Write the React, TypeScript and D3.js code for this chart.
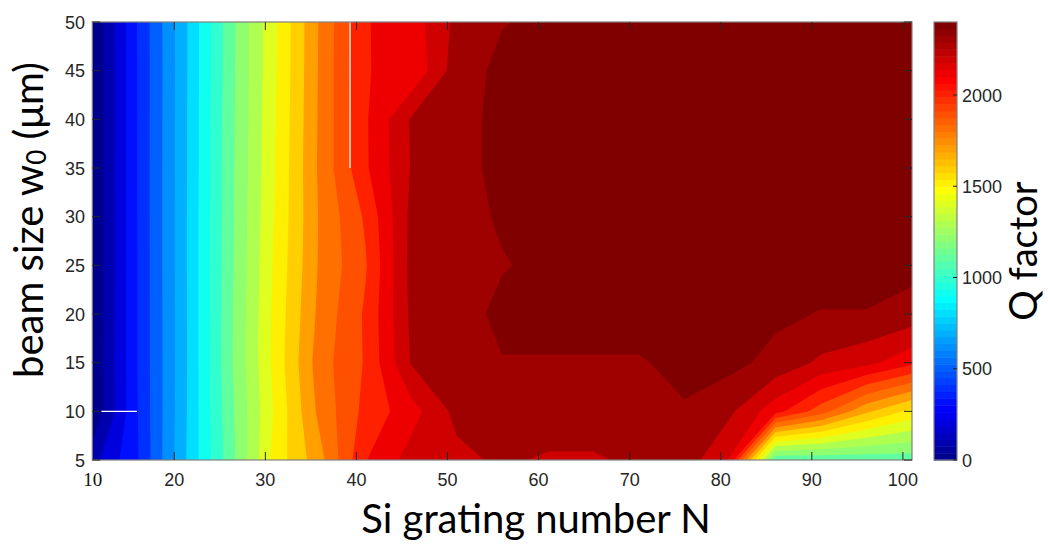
import React from 'react';
import * as d3 from 'd3';

// ---- data ----
const N_VALUES = [11, 16, 21, 26, 31, 36, 41, 46, 51, 56, 61, 66, 71, 76, 81, 86, 91, 96, 101];
const W0_VALUES = [5, 10, 15, 20, 25, 30, 35, 40, 45, 50];

// Q factor per beam size w0 (columns follow N_VALUES)
const Q_W5 = [160, 395, 777, 1145, 1535, 1767, 2095, 2240, 2270, 2320, 2285, 2285, 2325, 2360, 2190, 1110, 1120, 1130, 1140];
const Q_W10 = [5, 400, 770, 1160, 1510, 1830, 2030, 2160, 2330, 2360, 2370, 2370, 2370, 2390, 2320, 2140, 1950, 1720, 1570];
const Q_W15 = [8, 404, 767, 1170, 1528, 1855, 2010, 2306, 2350, 2392, 2390, 2390, 2390, 2430, 2428, 2370, 2280, 2230, 2125];
const Q_W20 = [6, 404, 768, 1168, 1525, 1830, 2015, 2320, 2330, 2440, 2450, 2450, 2450, 2450, 2450, 2420, 2395, 2395, 2360];
const Q_W25 = [5, 404, 770, 1165, 1515, 1815, 1990, 2330, 2375, 2390, 2435, 2440, 2440, 2445, 2445, 2445, 2445, 2445, 2431];
const Q_W30 = [4, 405, 770, 1162, 1505, 1812, 2015, 2325, 2340, 2420, 2440, 2445, 2445, 2445, 2445, 2445, 2445, 2445, 2440];
const Q_W35 = [4, 406, 768, 1160, 1495, 1822, 2085, 2305, 2375, 2420, 2440, 2445, 2445, 2445, 2445, 2445, 2445, 2445, 2440];
const Q_W40 = [3, 405, 768, 1158, 1490, 1818, 2087, 2309, 2375, 2420, 2440, 2445, 2445, 2445, 2445, 2445, 2445, 2445, 2440];
const Q_W45 = [3, 405, 766, 1155, 1485, 1815, 2098, 2114, 2352, 2425, 2440, 2445, 2445, 2445, 2445, 2445, 2445, 2445, 2440];
const Q_W50 = [3, 408, 766, 1154, 1483, 1812, 2094, 2146, 2325, 2395, 2420, 2440, 2440, 2440, 2440, 2440, 2440, 2440, 2440];

const LEVELS = d3.range(0, 2401, 100);
const C_LIM = [0, 2400];
const CB_TICKS = [0, 500, 1000, 1500, 2000];
const X_TICKS = [20, 30, 40, 50, 60, 70, 80, 90, 100];
const X_EDGE_LABEL = '10';
const Y_TICKS = [5, 10, 15, 20, 25, 30, 35, 40, 45, 50];
// white artefact strokes visible in the picture, in data units [N, w0]
const ARTEFACTS = [
  [[39.3, 35], [39.3, 50]],
  [[12.0, 10], [15.9, 10]],
];

// MATLAB jet(64)
function jetU(k: number) {
  if (k < 1 || k > 47) return 0;
  if (k <= 16) return k / 16;
  if (k <= 31) return 1;
  return (48 - k) / 16;
}
function jet64(i: number) {
  const r = jetU(i - 24), g = jetU(i - 8), b = jetU(i + 8);
  return d3.rgb(Math.round(r * 255), Math.round(g * 255), Math.round(b * 255)).formatHex();
}
function levelColor(v: number) {
  const idx = Math.min(64, Math.max(1, Math.floor(((v - C_LIM[0]) / (C_LIM[1] - C_LIM[0])) * 64) + 1));
  return jet64(idx);
}

export default function App() {
  const W = 1048, H = 544;
  const left = 92.3, right = 912, top = 22, bottom = 460;
  const x = d3.scaleLinear().domain([N_VALUES[0], N_VALUES[N_VALUES.length - 1]]).range([left, right]);
  const y = d3.scaleLinear().domain([W0_VALUES[0], W0_VALUES[W0_VALUES.length - 1]]).range([bottom, top]);

  const grid = [Q_W5, Q_W10, Q_W15, Q_W20, Q_W25, Q_W30, Q_W35, Q_W40, Q_W45, Q_W50];
  const nx = N_VALUES.length, ny = W0_VALUES.length;
  const values = grid.flat();
  const gx = d3.scaleLinear().domain([0.5, nx - 0.5]).range([N_VALUES[0], N_VALUES[nx - 1]]);
  const gy = d3.scaleLinear().domain([0.5, ny - 0.5]).range([W0_VALUES[0], W0_VALUES[ny - 1]]);
  const proj = d3.geoTransform({
    point: function (px: number, py: number) {
      (this as any).stream.point(x(gx(px)), y(gy(py)));
    },
  });
  const path = d3.geoPath(proj as any);
  const contours = d3.contours().size([nx, ny]).thresholds(LEVELS)(values);

  const cbL = 934, cbR = 957;
  const c = d3.scaleLinear().domain(C_LIM).range([bottom, top]);
  const cbSteps = d3.range(64);

  const tickColor = '#262626';
  const frameColor = '#808080';
  const sans = '"Liberation Sans", Arial, sans-serif';
  const titleFont = 'Lato, "Open Sans", sans-serif';

  return (
    <svg width={W} height={H} style={{ position: 'absolute', left: 0, top: 0, background: '#fff' }}>
      <defs>
        <clipPath id="plotclip">
          <rect x={left} y={top} width={right - left} height={bottom - top} />
        </clipPath>
      </defs>
      <g clipPath="url(#plotclip)">
        {contours.map((ct, i) => (
          <path key={i} d={path(ct as any) || ''} fill={levelColor(ct.value)} stroke="none" />
        ))}
        {ARTEFACTS.map((seg, i) => (
          <line key={i} x1={x(seg[0][0])} y1={y(seg[0][1])} x2={x(seg[1][0])} y2={y(seg[1][1])} stroke="#fff" strokeWidth={1.2} />
        ))}
      </g>
      {/* frame */}
      <rect x={left} y={top} width={right - left} height={bottom - top} fill="none" stroke={frameColor} strokeWidth={1.2} />
      {/* x ticks */}
      {X_TICKS.map((t) => (
        <g key={'x' + t}>
          <line x1={x(t)} x2={x(t)} y1={bottom} y2={bottom - 8} stroke={tickColor} strokeWidth={1} />
          <line x1={x(t)} x2={x(t)} y1={top} y2={top + 8} stroke={tickColor} strokeWidth={1} />
          <text x={x(t)} y={486} textAnchor="middle" fontFamily={sans} fontSize={18} fill={tickColor}>{t}</text>
        </g>
      ))}
      <text x={x(N_VALUES[0]) + 0.5} y={486} textAnchor="middle" fontFamily='"Liberation Serif", "DejaVu Serif", serif' fontSize={19} fill="#111">{X_EDGE_LABEL}</text>
      {/* y ticks */}
      {Y_TICKS.map((t) => (
        <g key={'y' + t}>
          <line x1={left} x2={left + 8} y1={y(t)} y2={y(t)} stroke={tickColor} strokeWidth={1} />
          <line x1={right} x2={right - 8} y1={y(t)} y2={y(t)} stroke={tickColor} strokeWidth={1} />
          <text x={85} y={y(t) + 6.5} textAnchor="end" fontFamily={sans} fontSize={18} fill={tickColor}>{t}</text>
        </g>
      ))}
      {/* colorbar */}
      {cbSteps.map((i) => {
        const v0 = C_LIM[0] + (i * (C_LIM[1] - C_LIM[0])) / 64;
        const v1 = C_LIM[0] + ((i + 1) * (C_LIM[1] - C_LIM[0])) / 64;
        return <rect key={'cb' + i} x={cbL} y={c(v1)} width={cbR - cbL} height={c(v0) - c(v1) + 0.5} fill={jet64(i + 1)} />;
      })}
      <rect x={cbL} y={top} width={cbR - cbL} height={bottom - top} fill="none" stroke={frameColor} strokeWidth={1.2} />
      {CB_TICKS.map((t) => (
        <g key={'cbt' + t}>
          <line x1={cbR} x2={cbR - 4} y1={c(t)} y2={c(t)} stroke={tickColor} strokeWidth={1} />
          <text x={962} y={c(t) + 6.5} fontFamily={sans} fontSize={18} fill={tickColor}>{t}</text>
        </g>
      ))}
      {/* titles */}
      <text x={536} y={533} textAnchor="middle" fontFamily={titleFont} fontSize={40} fill="#000">Si grating number N</text>
      <text transform={`translate(43,220) rotate(-90)`} textAnchor="middle" fontFamily={titleFont} fontSize={40} fill="#000">
        beam size w<tspan fontSize={26} dy={3}>0</tspan><tspan dy={-3}> (μm)</tspan>
      </text>
      <text transform={`translate(1037,251) rotate(-90)`} textAnchor="middle" fontFamily={titleFont} fontSize={38} fill="#000">Q factor</text>
    </svg>
  );
}
